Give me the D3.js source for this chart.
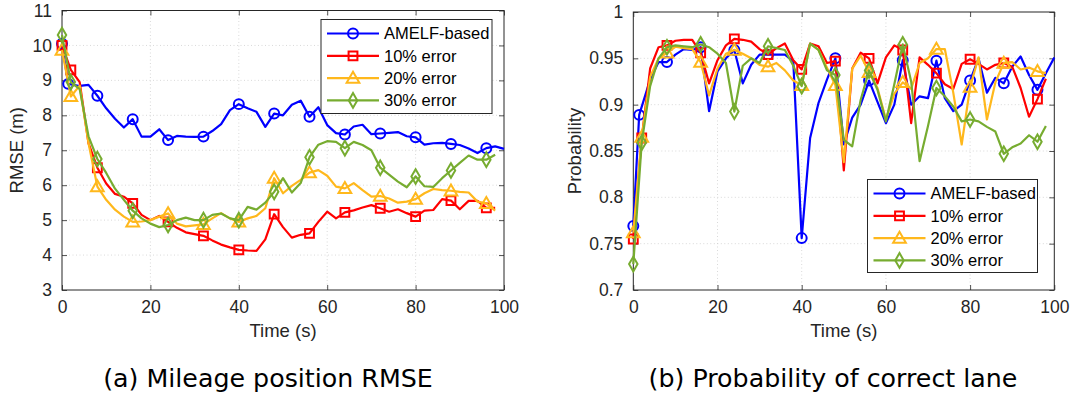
<!DOCTYPE html>
<html>
<head>
<meta charset="utf-8">
<script src="https://cdn.jsdelivr.net/npm/d3@7"></script>
<style>
  html, body { margin: 0; padding: 0; background: #ffffff; }
  svg { display: block; }
</style>
</head>
<body>
<svg id="chart" width="1073" height="395"></svg>
<script>
// ---- data -------------------------------------------------------------
const seriesNames = ["AMELF-based", "10% error", "20% error", "30% error"];
const seriesColors = ["#0000ff", "#ff0000", "#ffb81c", "#77ac30"];
const seriesSymbols = ["circle", "square", "triangle", "diamond"];

// sample times (s)
const timeAmelf = [0, 1.4, 4, 6, 8, 10, 12, 14, 16, 18, 20, 22, 24, 26, 28, 30, 32, 34, 36, 38,
  40, 42, 44, 46, 48, 50, 52, 54, 56, 58, 60, 62, 64, 66, 68, 70, 72, 74, 76, 78,
  80, 82, 84, 86, 88, 90, 92, 94, 96, 98, 100];
const timeError = [0, 2, 4, 6, 8, 10, 12, 14, 16, 18, 20, 22, 24, 26, 28, 30, 32, 34, 36, 38,
  40, 42, 44, 46, 48, 50, 52, 54, 56, 58, 60, 62, 64, 66, 68, 70, 72, 74, 76, 78,
  80, 82, 84, 86, 88, 90, 92, 94, 96, 98];
// sample indices that carry a marker
const markerIndex = [0, 1, 4, 8, 12, 16, 20, 24, 28, 32, 36, 40, 44, 48];

// (a) mileage position RMSE (m)
const rmseAmelf = [10.05, 8.9, 8.84, 8.87, 8.56, 8.2, 7.9, 7.65, 7.89, 7.39,
  7.39, 7.6, 7.29, 7.41, 7.39, 7.38, 7.39, 7.55, 7.75, 8.15,
  8.32, 8.2, 8.1, 7.67, 8.05, 8.0, 8.3, 8.42, 7.96, 8.23,
  7.72, 7.49, 7.45, 7.68, 7.73, 7.46, 7.48, 7.5, 7.52, 7.4,
  7.37, 7.16, 7.2, 7.21, 7.18, 7.15, 7.05, 6.92, 7.06, 7.11, 7.04];
const rmse10 = [10.0, 9.3, 8.95, 7.2, 6.5, 6.05, 5.75, 5.67, 5.48, 5.15,
  5.0, 5.12, 4.95, 4.78, 4.65, 4.6, 4.55, 4.42, 4.3, 4.22,
  4.15, 4.13, 4.12, 4.45, 5.17, 4.8, 4.5, 4.58, 4.62, 4.95,
  5.24, 5.05, 5.22, 5.28, 5.36, 5.43, 5.34, 5.24, 5.31, 5.2,
  5.1, 5.27, 5.29, 5.6, 5.56, 5.31, 5.55, 5.55, 5.35, 5.35];
const rmse20 = [9.87, 8.54, 8.85, 7.2, 5.96, 5.58, 5.3, 5.1, 4.95, 4.96,
  5.0, 5.1, 5.19, 4.9, 4.82, 4.85, 4.88, 5.05, 5.2, 5.05,
  4.95, 5.05, 5.12, 5.34, 6.2, 5.77, 5.98, 6.15, 6.36, 6.43,
  6.27, 5.96, 5.91, 6.06, 5.86, 5.67, 5.69, 5.62, 5.5, 5.53,
  5.6, 5.77, 5.89, 5.86, 5.84, 5.81, 5.79, 5.53, 5.48, 5.27];
const rmse30 = [10.3, 8.95, 8.75, 7.4, 6.75, 6.35, 5.9, 5.58, 5.27, 5.05,
  4.9, 4.8, 4.86, 5.0, 5.07, 5.0, 5.0, 5.15, 5.19, 5.05,
  5.0, 5.38, 5.3, 5.5, 5.81, 6.2, 5.79, 6.06, 6.8, 7.16,
  7.26, 7.24, 7.06, 7.24, 7.15, 7.0, 6.5, 6.3, 6.1, 5.94,
  6.25, 5.97, 5.95, 6.2, 6.42, 6.64, 6.85, 6.73, 6.73, 6.87];

// (b) probability of correct lane
const probAmelf = [0.769, 0.889, 0.927, 0.946, 0.946, 0.954, 0.960, 0.959, 0.962, 0.893,
  0.936, 0.950, 0.959, 0.923, 0.943, 0.954, 0.954, 0.954, 0.954, 0.947,
  0.756, 0.864, 0.902, 0.927, 0.950, 0.857, 0.886, 0.900, 0.926, 0.903,
  0.880, 0.900, 0.948, 0.900, 0.909, 0.907, 0.9475, 0.907, 0.893, 0.900,
  0.926, 0.950, 0.913, 0.929, 0.923, 0.941, 0.952, 0.932, 0.916, 0.934, 0.951];
const prob10 = [0.755, 0.864, 0.939, 0.962, 0.964, 0.969, 0.970, 0.970, 0.956, 0.923,
  0.948, 0.964, 0.971, 0.970, 0.968, 0.960, 0.954, 0.961, 0.966, 0.948,
  0.938, 0.966, 0.963, 0.945, 0.947, 0.829, 0.939, 0.956, 0.950, 0.923,
  0.951, 0.964, 0.959, 0.880, 0.951, 0.943, 0.934, 0.922, 0.917, 0.944,
  0.949, 0.944, 0.938, 0.943, 0.945, 0.941, 0.918, 0.887, 0.906, 0.928];
const prob20 = [0.762, 0.865, 0.930, 0.950, 0.956, 0.9625, 0.961, 0.960, 0.946, 0.910,
  0.939, 0.955, 0.959, 0.955, 0.950, 0.943, 0.941, 0.945, 0.937, 0.926,
  0.921, 0.966, 0.959, 0.940, 0.921, 0.838, 0.939, 0.953, 0.935, 0.918,
  0.884, 0.912, 0.924, 0.917, 0.945, 0.950, 0.960, 0.960, 0.913, 0.857,
  0.919, 0.951, 0.884, 0.924, 0.945, 0.946, 0.938, 0.940, 0.936, 0.934];
const prob30 = [0.728, 0.859, 0.920, 0.950, 0.962, 0.964, 0.963, 0.962, 0.965, 0.962,
  0.955, 0.945, 0.8925, 0.942, 0.950, 0.945, 0.963, 0.961, 0.959, 0.942,
  0.920, 0.966, 0.959, 0.937, 0.932, 0.862, 0.855, 0.905, 0.937, 0.916,
  0.882, 0.922, 0.965, 0.925, 0.839, 0.877, 0.918, 0.909, 0.898, 0.882,
  0.884, 0.882, 0.876, 0.871, 0.847, 0.854, 0.858, 0.867, 0.860, 0.877];

const xTicks = [0, 20, 40, 60, 80, 100];
const rmseTicks = [3, 4, 5, 6, 7, 8, 9, 10, 11];
const probTicks = [0.7, 0.75, 0.8, 0.85, 0.9, 0.95, 1];
const probTickLabels = ["0.7", "0.75", "0.8", "0.85", "0.9", "0.95", "1"];

// ---- drawing ----------------------------------------------------------
const svg = d3.select("#chart");
const AXIS = "#262626";
const TICK_FONT = "'Liberation Sans', Arial, Helvetica, sans-serif";

const symbolTypes = {
  circle: d3.symbolCircle,
  square: d3.symbolSquare,
  triangle: d3.symbolTriangle,
  diamond: d3.symbolDiamond
};
const symbolSizes = { circle: 78, square: 78, triangle: 70, diamond: 62 };

function markerPath(kind) {
  return d3.symbol().type(symbolTypes[kind]).size(symbolSizes[kind])();
}

function drawPanel(cfg) {
  const x = d3.scaleLinear().domain([0, 100]).range([cfg.left, cfg.right]);
  const y = d3.scaleLinear().domain(cfg.yDomain).range([cfg.bottom, cfg.top]);
  const g = svg.append("g");

  // dotted grid
  const grid = g.append("g").attr("stroke", "#cfcfcf").attr("stroke-width", 0.8)
    .attr("stroke-dasharray", "1,2.5");
  xTicks.slice(1, -1).forEach(t => grid.append("line")
    .attr("x1", x(t)).attr("x2", x(t)).attr("y1", cfg.top).attr("y2", cfg.bottom));
  cfg.yTicks.slice(1, -1).forEach(t => grid.append("line")
    .attr("x1", cfg.left).attr("x2", cfg.right).attr("y1", y(t)).attr("y2", y(t)));

  // axes with inward ticks on all four sides
  const bottomAxis = d3.axisBottom(x).tickValues(xTicks).tickSizeInner(-5).tickSizeOuter(0)
    .tickPadding(11).tickFormat(d3.format("d"));
  const topAxis = d3.axisTop(x).tickValues(xTicks).tickSizeInner(-5).tickSizeOuter(0).tickFormat("");
  const leftAxis = d3.axisLeft(y).tickValues(cfg.yTicks).tickSizeInner(-5).tickSizeOuter(0)
    .tickPadding(10).tickFormat((d, i) => cfg.yLabels[i]);
  const rightAxis = d3.axisRight(y).tickValues(cfg.yTicks).tickSizeInner(-5).tickSizeOuter(0).tickFormat("");

  const ax = [
    g.append("g").attr("transform", `translate(0,${cfg.bottom})`).call(bottomAxis),
    g.append("g").attr("transform", `translate(0,${cfg.top})`).call(topAxis),
    g.append("g").attr("transform", `translate(${cfg.left},0)`).call(leftAxis),
    g.append("g").attr("transform", `translate(${cfg.right},0)`).call(rightAxis)
  ];
  ax.forEach(a => {
    a.select(".domain").remove();
    a.selectAll(".tick line").attr("stroke", AXIS).attr("stroke-width", 0.8);
    a.selectAll(".tick text").attr("fill", AXIS).style("font-family", TICK_FONT).style("font-size", "17.5px");
  });
  g.append("rect").attr("x", cfg.left).attr("y", cfg.top)
    .attr("width", cfg.right - cfg.left).attr("height", cfg.bottom - cfg.top)
    .attr("fill", "none").attr("stroke", AXIS).attr("stroke-width", 1);

  // series lines and markers
  const line = d3.line().x(d => x(d[0])).y(d => y(d[1]));
  cfg.series.forEach((s, k) => {
    const pts = s.time.map((t, i) => [t, s.values[i]]);
    g.append("path").datum(pts).attr("d", line).attr("fill", "none")
      .attr("stroke", seriesColors[k]).attr("stroke-width", 2.2).attr("stroke-linejoin", "round");
    g.append("g").selectAll("path").data(markerIndex.filter(i => i < pts.length).map(i => pts[i]))
      .join("path")
      .attr("d", markerPath(seriesSymbols[k]))
      .attr("transform", d => `translate(${x(d[0])},${y(d[1]) + (seriesSymbols[k] === "triangle" ? 1 : 0)})`)
      .attr("fill", "none").attr("stroke", seriesColors[k]).attr("stroke-width", 2);
  });

  // axis titles
  g.append("text").attr("x", (cfg.left + cfg.right) / 2).attr("y", 337)
    .attr("text-anchor", "middle").attr("fill", AXIS)
    .style("font-family", TICK_FONT).style("font-size", "18.5px").text("Time (s)");
  g.append("text").attr("transform", `translate(${cfg.yTitleX},${(cfg.top + cfg.bottom) / 2}) rotate(-90)`)
    .attr("text-anchor", "middle").attr("fill", AXIS)
    .style("font-family", TICK_FONT).style("font-size", "18.5px").text(cfg.yTitle);

  // caption
  g.append("text").attr("x", cfg.captionX).attr("y", 387)
    .attr("text-anchor", "middle").attr("fill", "#000")
    .style("font-family", "'DejaVu Sans', sans-serif").style("font-size", "25.3px").text(cfg.caption);

  // legend
  const L = cfg.legend;
  const lg = g.append("g").attr("transform", `translate(${L.x},${L.y})`);
  lg.append("rect").attr("width", L.w).attr("height", L.h)
    .attr("fill", "#fff").attr("stroke", AXIS).attr("stroke-width", 1);
  seriesNames.forEach((name, k) => {
    const cy = 14 + k * 22.3;
    lg.append("line").attr("x1", 6).attr("x2", 58).attr("y1", cy).attr("y2", cy)
      .attr("stroke", seriesColors[k]).attr("stroke-width", 2.2);
    lg.append("path").attr("d", markerPath(seriesSymbols[k]))
      .attr("transform", `translate(32,${cy + (seriesSymbols[k] === "triangle" ? 1 : 0)})`)
      .attr("fill", "none").attr("stroke", seriesColors[k]).attr("stroke-width", 2);
    lg.append("text").attr("x", 63).attr("y", cy).attr("dy", "0.36em").attr("fill", "#000")
      .style("font-family", TICK_FONT).style("font-size", "16.5px").text(name);
  });
}

drawPanel({
  left: 62, right: 504, top: 10.5, bottom: 290,
  yDomain: [3, 11], yTicks: rmseTicks, yLabels: rmseTicks.map(String),
  yTitle: "RMSE (m)", yTitleX: 23,
  caption: "(a) Mileage position RMSE", captionX: 268,
  legend: { x: 321, y: 19.5, w: 171, h: 94 },
  series: [
    { time: timeAmelf, values: rmseAmelf },
    { time: timeError, values: rmse10 },
    { time: timeError, values: rmse20 },
    { time: timeError, values: rmse30 }
  ]
});

drawPanel({
  left: 633.3, right: 1054.3, top: 12, bottom: 290,
  yDomain: [0.7, 1], yTicks: probTicks, yLabels: probTickLabels,
  yTitle: "Probability", yTitleX: 581,
  caption: "(b) Probability of correct lane", captionX: 833,
  legend: { x: 867.5, y: 179.5, w: 170, h: 93 },
  series: [
    { time: timeAmelf, values: probAmelf },
    { time: timeError, values: prob10 },
    { time: timeError, values: prob20 },
    { time: timeError, values: prob30 }
  ]
});
</script>
</body>
</html>
